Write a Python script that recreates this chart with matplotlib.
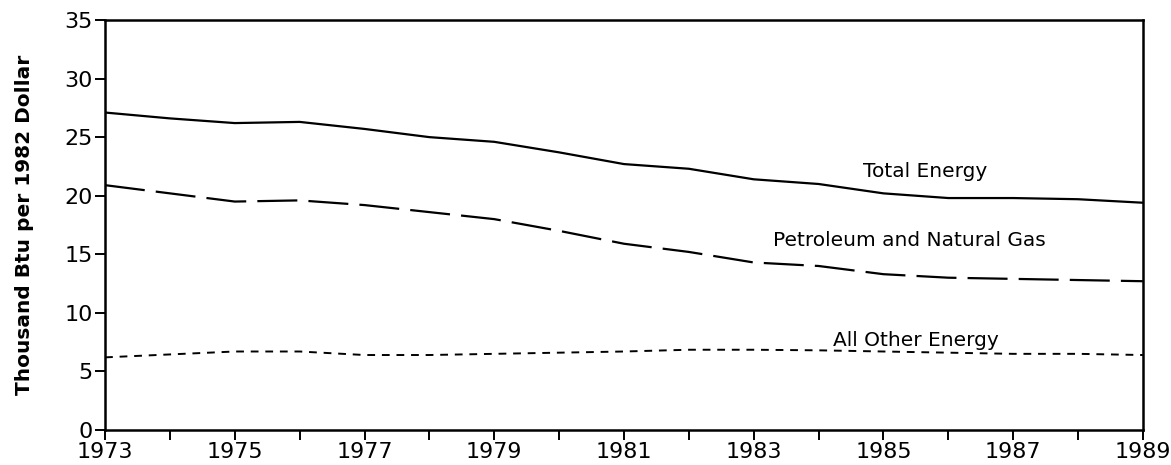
import matplotlib
matplotlib.use("Agg")
import matplotlib.pyplot as plt

years = list(range(1973, 1990))
total_energy = [27.1, 26.6, 26.2, 26.3, 25.7, 25.0, 24.6, 23.7, 22.7, 22.3, 21.4, 21.0, 20.2, 19.8, 19.8, 19.7, 19.4]
petroleum_gas = [20.9, 20.2, 19.5, 19.6, 19.2, 18.6, 18.0, 17.0, 15.9, 15.2, 14.3, 14.0, 13.3, 13.0, 12.9, 12.8, 12.7]
other_energy = [6.2, 6.45, 6.7, 6.7, 6.4, 6.4, 6.5, 6.6, 6.7, 6.85, 6.85, 6.8, 6.7, 6.6, 6.5, 6.5, 6.4]
xtick_labels = [str(y) for y in range(1973, 1990, 2)]
yticks = [0, 5, 10, 15, 20, 25, 30, 35]

fig = plt.figure(figsize=(11.71, 4.65), dpi=100)
ax = fig.add_axes([0.0897, 0.0753, 0.8863, 0.8817])

ax.plot(years, total_energy, color="black", lw=1.6, solid_joinstyle="round")
ax.plot(years, petroleum_gas, color="black", lw=1.6, dashes=(18, 5))
ax.plot(years, other_energy, color="black", lw=1.4, dashes=(4, 3.5))

ax.text(1985.64, 22.1, "Total Energy", ha="center", va="center", fontsize=14.5)
ax.text(1985.4, 16.2, "Petroleum and Natural Gas", ha="center", va="center", fontsize=14.5)
ax.text(1985.5, 7.6, "All Other Energy", ha="center", va="center", fontsize=14.5)

ax.set_xlim(1973, 1989)
ax.set_ylim(0, 35)
ax.set_xticks(range(1973, 1990))
ax.set_xticklabels([str(y) if (y - 1973) % 2 == 0 else "" for y in years])
ax.set_yticks(yticks)
ax.tick_params(axis="both", direction="out", length=7, width=1.4, labelsize=16, pad=2)
for s in ax.spines.values():
    s.set_linewidth(1.8)
ax.set_ylabel("Thousand Btu per 1982 Dollar", fontsize=14.5, fontweight="bold", labelpad=22)

fig.savefig("out.png", dpi=100)
